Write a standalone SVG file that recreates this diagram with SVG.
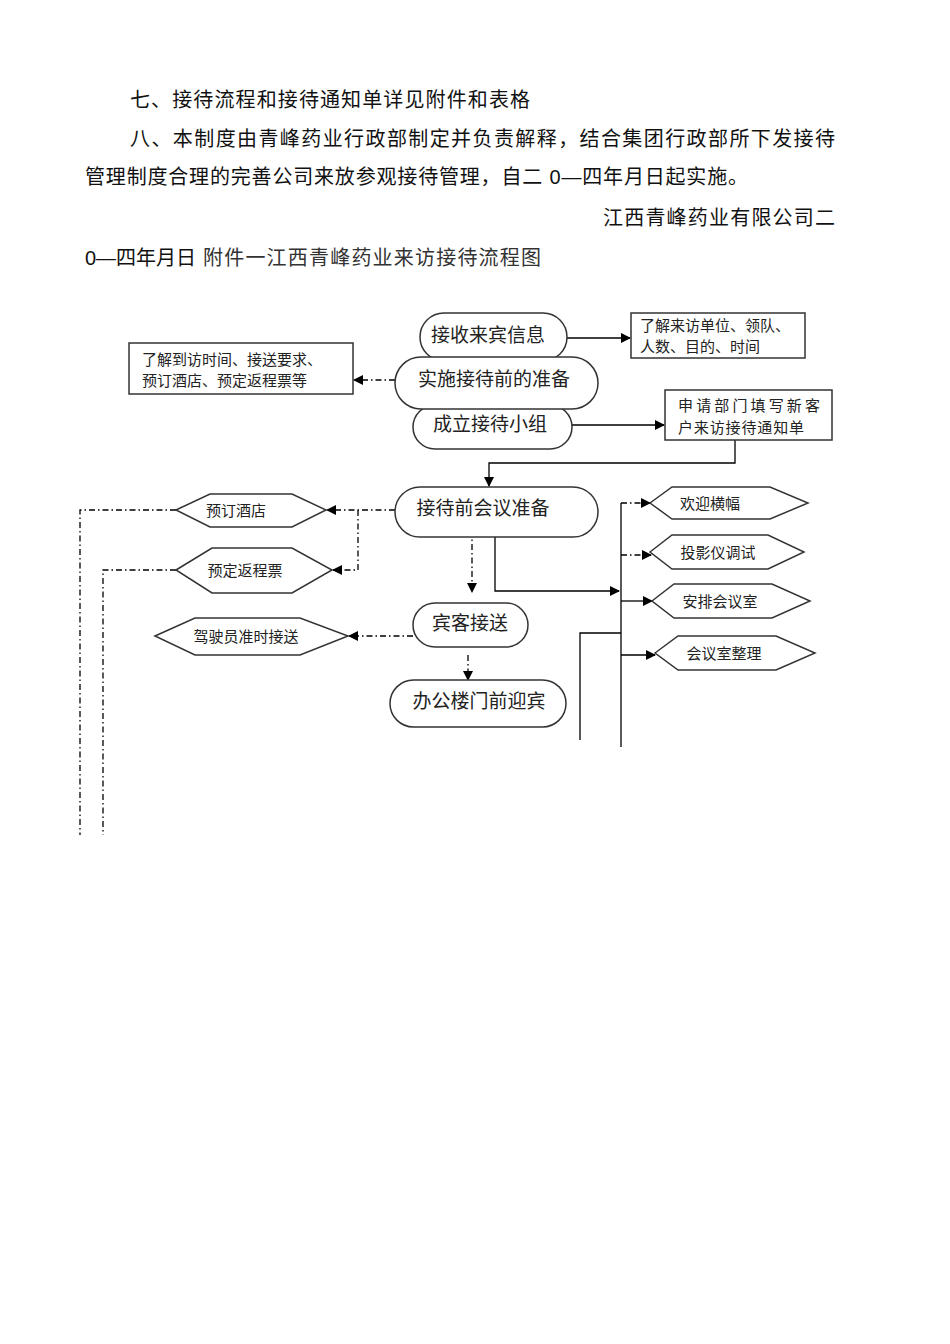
<svg xmlns="http://www.w3.org/2000/svg" width="950" height="1344" viewBox="0 0 950 1344">
<defs>
<marker id="ah" markerWidth="10" markerHeight="10" refX="9" refY="5" orient="auto" markerUnits="userSpaceOnUse"><path d="M0,0 L10,5 L0,10 z" fill="#000"/></marker>
<style>
.t{font-family:"Liberation Sans","Noto Sans CJK SC",sans-serif;font-size:20px;fill:#111}
.n{font-family:"Noto Sans CJK SC",sans-serif;fill:#222}
.big{font-size:19px}
.sm{font-size:15px}
.bx{font-size:15px}
.sh{fill:#fff;stroke:#333;stroke-width:1.5}
.ln{fill:none;stroke:#000;stroke-width:1.3}
.dd{fill:none;stroke:#000;stroke-width:1.3;stroke-dasharray:6 3 1.5 3}
</style>
</defs>
<rect width="950" height="1344" fill="#fff"/>
<g id="header">
<text class="t" x="130" y="107" textLength="400">七、接待流程和接待通知单详见附件和表格</text>
<text class="t" x="130" y="146" textLength="705">八、本制度由青峰药业行政部制定并负责解释，结合集团行政部所下发接待</text>
<text class="t" x="85" y="184" textLength="663">管理制度合理的完善公司来放参观接待管理，自二 0—四年月日起实施。</text>
<text class="t" x="603" y="225" textLength="232">江西青峰药业有限公司二</text>
<text class="t" x="85" y="265">0—四年月日</text>
<text x="203" y="265" textLength="338" style="font-family:'Liberation Serif','Noto Sans CJK SC',serif;font-size:20px;fill:#333">附件一江西青峰药业来访接待流程图</text>
</g>
<g id="connectors">
<line class="ln" x1="567" y1="338" x2="630" y2="338" marker-end="url(#ah)"/>
<line class="dd" x1="395" y1="380" x2="354" y2="380" marker-end="url(#ah)"/>
<line class="ln" x1="572" y1="425" x2="664" y2="425" marker-end="url(#ah)"/>
<polyline class="ln" points="735,440 735,463 489,463 489,486" marker-end="url(#ah)"/>
<line class="dd" x1="395" y1="510" x2="327" y2="510" marker-end="url(#ah)"/>
<polyline class="dd" points="358,510 358,570 333,570" marker-end="url(#ah)"/>
<polyline class="dd" points="176,510 80,510 80,835"/>
<polyline class="dd" points="176,570 103,570 103,835"/>
<line class="dd" x1="472" y1="517" x2="472" y2="592" marker-end="url(#ah)"/>
<line class="dd" x1="413" y1="636" x2="349" y2="636" marker-end="url(#ah)"/>
<line class="dd" x1="468" y1="655" x2="468" y2="680" marker-end="url(#ah)"/>
<polyline class="ln" points="495,537 495,591 619,591" marker-end="url(#ah)"/>
<line class="ln" x1="621" y1="503" x2="621" y2="747"/>
<line class="dd" x1="621" y1="503" x2="650" y2="503" marker-end="url(#ah)"/>
<line class="dd" x1="621" y1="555" x2="651" y2="555" marker-end="url(#ah)"/>
<line class="ln" x1="621" y1="601" x2="652" y2="601" marker-end="url(#ah)"/>
<line class="ln" x1="621" y1="655" x2="655" y2="655" marker-end="url(#ah)"/>
<polyline class="ln" points="621,633 580,633 580,740"/>
</g>
<g id="n-zuzhi"><rect class="sh" x="413" y="405" width="159" height="44" rx="22"/><text class="n big" x="490" y="431" text-anchor="middle">成立接待小组</text></g>
<g id="n-jieshou"><rect class="sh" x="420" y="313" width="147" height="48" rx="24"/><text class="n big" x="488" y="342" text-anchor="middle">接收来宾信息</text></g>
<g id="n-shishi"><rect class="sh" x="395" y="357" width="203" height="52" rx="26"/><text class="n big" x="494" y="386" text-anchor="middle">实施接待前的准备</text></g>
<g id="n-box1"><rect class="sh" x="631" y="313" width="174" height="45"/><text class="n bx" x="640" y="331">了解来访单位、领队、</text><text class="n bx" x="640" y="352">人数、目的、时间</text></g>
<g id="n-box2"><rect class="sh" x="129" y="343" width="224" height="51"/><text class="n bx" x="142" y="365">了解到访时间、接送要求、</text><text class="n bx" x="142" y="386">预订酒店、预定返程票等</text></g>
<g id="n-box3"><rect class="sh" x="665" y="390" width="167" height="50"/><text class="n bx" x="678" y="411" textLength="142">申请部门填写新客</text><text class="n bx" x="678" y="433" textLength="126">户来访接待通知单</text></g>
<g id="n-huiyi"><rect class="sh" x="395" y="487" width="203" height="50" rx="25"/><text class="n big" x="483" y="515" text-anchor="middle">接待前会议准备</text></g>
<g id="n-jiudian"><polygon class="sh" points="176,510 210,494 292,494 326,510 292,527 210,527"/><text class="n sm" x="236" y="516" text-anchor="middle">预订酒店</text></g>
<g id="n-piao"><polygon class="sh" points="176,570 212,548 292,548 332,570 292,593 212,593"/><text class="n sm" x="245" y="576" text-anchor="middle">预定返程票</text></g>
<g id="n-jiesong"><rect class="sh" x="413" y="603" width="115" height="44" rx="22"/><text class="n big" x="470" y="630" text-anchor="middle">宾客接送</text></g>
<g id="n-siji"><polygon class="sh" points="155,636 195,618 300,618 348,636 300,655 195,655"/><text class="n sm" x="246" y="642" text-anchor="middle">驾驶员准时接送</text></g>
<g id="n-yingbin"><rect class="sh" x="390" y="680" width="176" height="47" rx="23.5"/><text class="n big" x="479" y="708" text-anchor="middle">办公楼门前迎宾</text></g>
<g id="n-hengfu"><polygon class="sh" points="650,503 672,487 770,487 808,503 770,519 672,519"/><text class="n sm" x="710" y="509" text-anchor="middle">欢迎横幅</text></g>
<g id="n-touying"><polygon class="sh" points="650,552 672,535 768,535 804,552 768,569 672,569"/><text class="n sm" x="718" y="558" text-anchor="middle">投影仪调试</text></g>
<g id="n-anpai"><polygon class="sh" points="652,601 674,584 772,584 810,601 772,618 674,618"/><text class="n sm" x="720" y="607" text-anchor="middle">安排会议室</text></g>
<g id="n-zhengli"><polygon class="sh" points="655,653 678,636 776,636 815,653 776,670 678,670"/><text class="n sm" x="724" y="659" text-anchor="middle">会议室整理</text></g>
</svg>
